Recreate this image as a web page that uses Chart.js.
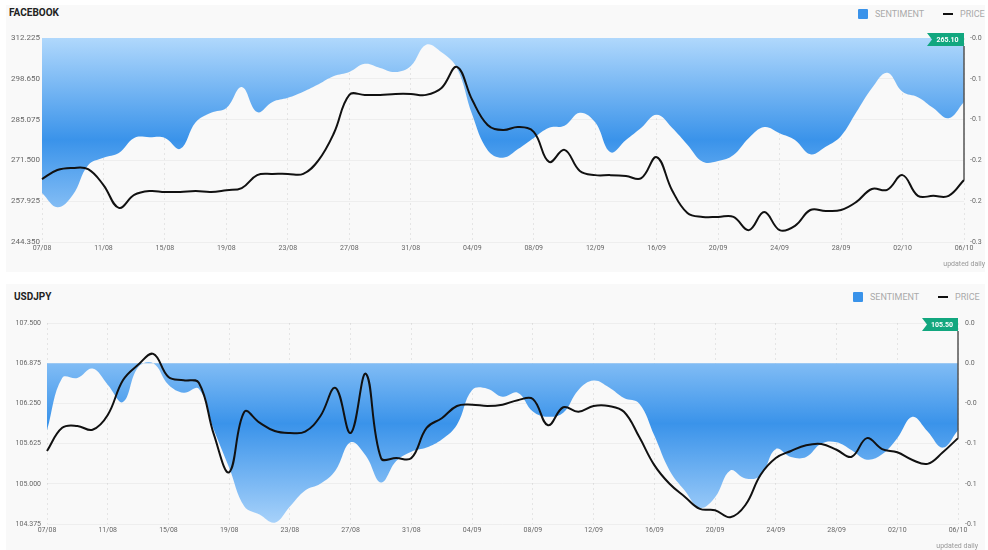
<!DOCTYPE html>
<html>
<head>
<meta charset="utf-8">
<script src="https://cdn.jsdelivr.net/npm/chart.js@4.4.1/dist/chart.umd.min.js"></script>
<style>
  body{margin:0;width:988px;height:550px;background:#fff;position:relative;overflow:hidden;font-family:Roboto,"Open Sans",sans-serif}
  .card{position:absolute;left:6px;width:979px;background:#f9f9f9}
  .title{position:absolute;font-weight:700;font-size:10px;line-height:12px;color:#222}
  .leg{position:absolute;font-size:9px;line-height:10px;color:#aaa}
  .sw{position:absolute;width:10px;height:10px;background:#3a93ea;border-radius:1px}
  .dash{position:absolute;width:10px;height:2px;background:#111}
  .upd{position:absolute;font-size:7px;line-height:10px;color:#999}
  canvas{position:absolute;left:0}
</style>
</head>
<body>
<div class="card" style="top:5px;height:267px"></div>
<div class="card" style="top:284px;height:266px"></div>

<div class="title" style="left:9px;top:7px">FACEBOOK</div>
<div class="sw" style="left:858px;top:9px"></div>
<div class="leg" style="left:875px;top:9px">SENTIMENT</div>
<div class="dash" style="left:943px;top:13px"></div>
<div class="leg" style="left:960px;top:9px">PRICE</div>
<canvas id="ch-fb" width="988" height="240" style="top:20px"></canvas>
<div class="upd" style="right:3px;top:259px">updated daily</div>

<div class="title" style="left:14px;top:291px">USDJPY</div>
<div class="sw" style="left:853px;top:292px"></div>
<div class="leg" style="left:870px;top:292px">SENTIMENT</div>
<div class="dash" style="left:938px;top:296px"></div>
<div class="leg" style="left:955px;top:292px">PRICE</div>
<canvas id="ch-usd" width="988" height="240" style="top:303px"></canvas>
<div class="upd" style="right:10px;top:541px">updated daily</div>

<script>
/* ---------- data ---------- */
const dates=['07/08','08/08','09/08','10/08','11/08','12/08','13/08','14/08','15/08','16/08','17/08','18/08','19/08','20/08','21/08','22/08','23/08','24/08','25/08','26/08','27/08','28/08','29/08','30/08','31/08',
  '01/09','02/09','03/09','04/09','05/09','06/09','07/09','08/09','09/09','10/09','11/09','12/09','13/09','14/09','15/09','16/09','17/09','18/09','19/09','20/09','21/09','22/09','23/09','24/09','25/09','26/09','27/09','28/09','29/09','30/09',
  '01/10','02/10','03/10','04/10','05/10','06/10'];

const fbPrice=[265.3,268.3,269.0,268.6,263.3,255.7,260.0,261.3,261.0,261.0,261.3,261.0,261.6,262.3,266.6,267.0,267.0,267.0,271.6,280.6,
  293.3,293.3,293.3,293.6,293.6,293.3,295.6,302.6,291.6,283.3,281.6,282.6,281.0,271.0,275.0,268.0,266.6,266.6,266.3,265.6,
  272.6,261.6,254.0,252.7,252.7,252.7,248.3,254.3,248.3,249.7,255.0,254.7,255.0,257.7,262.0,261.7,266.6,259.7,259.7,259.7,265.0];
const fbSent=[-0.228,-0.249,-0.231,-0.187,-0.176,-0.169,-0.147,-0.146,-0.147,-0.163,-0.124,-0.110,-0.103,-0.072,-0.109,-0.094,-0.088,-0.079,-0.068,-0.056,
  -0.050,-0.038,-0.044,-0.050,-0.041,-0.010,-0.021,-0.044,-0.113,-0.165,-0.176,-0.163,-0.147,-0.132,-0.129,-0.110,-0.124,-0.168,-0.150,-0.132,
  -0.113,-0.132,-0.157,-0.182,-0.181,-0.172,-0.147,-0.131,-0.140,-0.150,-0.171,-0.160,-0.144,-0.109,-0.074,-0.051,-0.079,-0.087,-0.103,-0.118,-0.094];
const fbPriceTicks=[244.35,257.925,271.5,285.075,298.65,312.225];
const fbSentTicks=[-0.3,-0.24,-0.18,-0.12,-0.06,0];
const fbSentLabels=['-0.3','-0.2','-0.2','-0.1','-0.1','-0.0'];
const fbLast='265.10';

const usdPrice=[105.51,105.87,105.90,105.84,106.07,106.61,106.85,107.02,106.66,106.61,106.57,105.76,105.18,106.12,105.95,105.82,105.79,105.81,106.05,106.49,
  105.79,106.71,105.40,105.40,105.40,105.87,106.02,106.21,106.23,106.21,106.23,106.30,106.32,105.91,106.19,106.12,106.21,106.21,106.12,105.73,
  105.29,105.00,104.80,104.61,104.59,104.48,104.67,105.14,105.40,105.51,105.60,105.62,105.53,105.42,105.71,105.54,105.49,105.37,105.31,105.49,105.71];
const usdSent=[-0.050,-0.011,-0.011,-0.004,-0.016,-0.029,-0.003,0.000,-0.016,-0.022,-0.019,-0.050,-0.078,-0.107,-0.113,-0.119,-0.107,-0.095,-0.090,-0.080,
  -0.059,-0.069,-0.089,-0.073,-0.066,-0.063,-0.057,-0.046,-0.020,-0.019,-0.025,-0.022,-0.036,-0.040,-0.037,-0.020,-0.013,-0.018,-0.026,-0.030,
  -0.054,-0.080,-0.095,-0.108,-0.100,-0.080,-0.086,-0.084,-0.064,-0.070,-0.070,-0.060,-0.059,-0.065,-0.072,-0.068,-0.056,-0.040,-0.051,-0.063,-0.050];
const usdPriceTicks=[104.375,105.0,105.625,106.25,106.875,107.5];
const usdSentTicks=[-0.12,-0.09,-0.06,-0.03,0,0.03];
const usdSentLabels=['-0.1','-0.1','-0.1','-0.0','0.0','0.0'];
const usdLast='105.50';

/* ---------- helpers ---------- */
function sentGradient(c){
  const {ctx,chartArea}=c.chart;
  if(!chartArea)return 'rgba(58,147,234,.6)';
  const g=ctx.createLinearGradient(0,chartArea.top,0,chartArea.bottom);
  g.addColorStop(0,'#b0d8fc');
  g.addColorStop(0.5,'#3a93ea');
  g.addColorStop(1,'#a8d2fa');
  return g;
}

// green price tag + vertical marker at the last point
const lastTag={
  id:'lastTag',
  afterDatasetsDraw(chart,args,opts){
    const {ctx,chartArea,scales}=chart;
    const n=chart.data.labels.length-1;
    const x=scales.x.getPixelForValue(n);
    const yEnd=scales.yPrice.getPixelForValue(chart.data.datasets[0].data[n]);
    const top=chartArea.top-5,h=13,w=opts.w;
    ctx.save();
    ctx.strokeStyle='#555';ctx.lineWidth=1.5;
    ctx.beginPath();ctx.moveTo(x,top+h);ctx.lineTo(x,yEnd);ctx.stroke();
    ctx.fillStyle='#12a77f';
    ctx.beginPath();
    ctx.moveTo(x-w,top);ctx.lineTo(x,top);ctx.lineTo(x,top+h);ctx.lineTo(x-w,top+h);ctx.lineTo(x-w+5,top+h/2);
    ctx.closePath();ctx.fill();
    ctx.fillStyle='#fff';ctx.font='bold 7px Roboto';ctx.textAlign='center';ctx.textBaseline='middle';
    ctx.fillText(opts.text,x-w/2+2,top+h/2+0.5);
    ctx.restore();
  }
};

function makeChart(id,o){
  const tickFont=s=>({size:s,family:'Roboto'});
  return new Chart(document.getElementById(id),{
    type:'line',
    data:{labels:dates,datasets:[
      {label:'PRICE',data:o.price,yAxisID:'yPrice',borderColor:'#111',borderWidth:2,pointRadius:0,tension:0.4,fill:false,order:0},
      {label:'SENTIMENT',data:o.sent,yAxisID:'ySent',borderWidth:0,borderColor:'rgba(0,0,0,0)',backgroundColor:sentGradient,pointRadius:0,tension:0.4,fill:{value:0},order:1}
    ]},
    options:{
      responsive:false,animation:false,devicePixelRatio:1,
      layout:{padding:{top:o.padTop,left:0,right:0,bottom:0}},
      plugins:{legend:{display:false},tooltip:{enabled:false},lastTag:{text:o.last,w:o.tagW}},
      scales:{
        x:{
          grid:{color:c=>c.index%4===0?'rgba(0,0,0,0.08)':'rgba(0,0,0,0)',drawTicks:false},
          border:{display:false,dash:[2,3]},
          ticks:{autoSkip:false,maxRotation:0,padding:2,color:'#666',font:tickFont(7),callback:(v,i)=>i%4===0?dates[i]:''},
          afterFit:s=>{s.height=o.xH;}
        },
        yPrice:{
          position:'left',min:o.pTicks[0],max:o.pTicks[o.pTicks.length-1],
          afterBuildTicks:s=>{s.ticks=o.pTicks.map(v=>({value:v}));},
          grid:{color:'rgba(0,0,0,0.045)',drawTicks:false},
          border:{display:false},
          ticks:{padding:o.lPad,color:'#666',font:tickFont(o.lFont),callback:v=>Number(v).toFixed(3)},
          afterFit:s=>{s.width=o.leftW;}
        },
        ySent:{
          position:'right',min:o.sTicks[0],max:o.sTicks[o.sTicks.length-1],
          afterBuildTicks:s=>{s.ticks=o.sTicks.map(v=>({value:v}));},
          grid:{display:false,drawTicks:false},
          border:{display:false},
          ticks:{padding:o.rPad,color:'#666',font:tickFont(7),callback:(v,i)=>o.sLabels[i]},
          afterFit:s=>{s.width=o.rightW;}
        }
      }
    },
    plugins:[lastTag]
  });
}

makeChart('ch-fb',{price:fbPrice,sent:fbSent,pTicks:fbPriceTicks,sTicks:fbSentTicks,sLabels:fbSentLabels,last:fbLast,
  padTop:18,xH:18,leftW:42,rightW:24,lPad:2,rPad:6,lFont:8,tagW:37});
makeChart('ch-usd',{price:usdPrice,sent:usdSent,pTicks:usdPriceTicks,sTicks:usdSentTicks,sLabels:usdSentLabels,last:usdLast,
  padTop:20,xH:19,leftW:47,rightW:30,lPad:6,rPad:7,lFont:7,tagW:36});
</script>
</body>
</html>
